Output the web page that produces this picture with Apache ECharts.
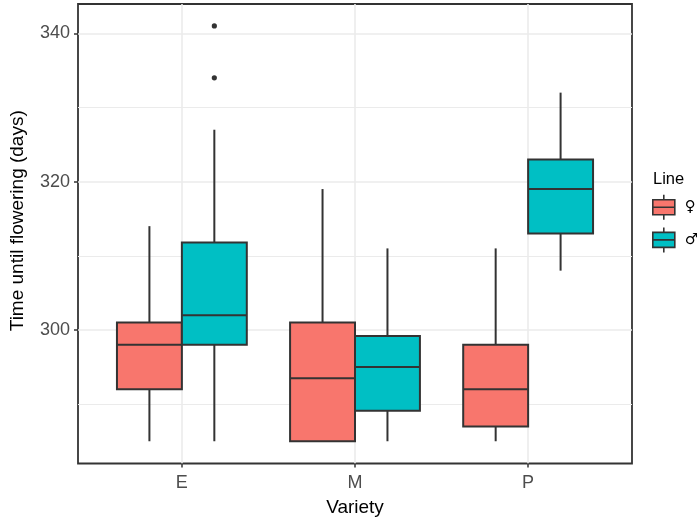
<!DOCTYPE html>
<html>
<head>
<meta charset="utf-8">
<script src="https://cdn.jsdelivr.net/npm/echarts@6/dist/echarts.min.js"></script>
<style>
html,body{margin:0;padding:0;background:#fff;}
#chart{width:700px;height:524px;}
</style>
</head>
<body>
<div id="chart"></div>
<script>
// ---- data ----
const categories = ['E', 'M', 'P'];
const seriesNames = ['\u2640', '\u2642'];
// [min, Q1, median, Q3, max] for each variety
const femaleBoxes = [
  [285, 292, 298, 301, 314],
  [285, 285, 293.5, 301, 319],
  [285, 287, 292, 298, 311]
];
const maleBoxes = [
  [285, 298, 302, 311.8, 327],
  [285, 289.1, 295, 299.2, 311],
  [308, 313, 319, 323, 332]
];
// outliers: [category, value]
const maleOutliers = [['E', 341], ['E', 334]];
const yMajorTicks = [300, 320, 340];
const yMinorTicks = [290, 310, 330];

// ---- chart ----
const FONT = 'Liberation Sans, Arial, DejaVu Sans, sans-serif';
const colors = ['#F8766D', '#00BFC4'];
const LW = 2;
const DARK = '#333333';

function toRows(boxes) {
  return boxes.map((b, i) => [i + 1].concat(b));
}

function makeRender(offsetFrac, color) {
  return function (params, api) {
    const x = api.value(0);
    const unit = api.size([1, 0])[0];
    const cx = api.coord([x, api.value(3)])[0] + offsetFrac * unit;
    const w = 0.375 * unit;
    const yMin = api.coord([x, api.value(1)])[1];
    const yQ1 = api.coord([x, api.value(2)])[1];
    const yMed = api.coord([x, api.value(3)])[1];
    const yQ3 = api.coord([x, api.value(4)])[1];
    const yMax = api.coord([x, api.value(5)])[1];
    const ls = { stroke: DARK, lineWidth: LW };
    return {
      type: 'group',
      children: [
        { type: 'line', shape: { x1: cx, y1: yMax, x2: cx, y2: yQ3 }, style: ls },
        { type: 'line', shape: { x1: cx, y1: yQ1, x2: cx, y2: yMin }, style: ls },
        { type: 'rect', shape: { x: cx - w / 2, y: yQ3, width: w, height: yQ1 - yQ3 },
          style: { fill: color, stroke: DARK, lineWidth: LW } },
        { type: 'line', shape: { x1: cx - w / 2, y1: yMed, x2: cx + w / 2, y2: yMed }, style: ls }
      ]
    };
  };
}

const legendIcon = 'path://M11,0L11,5M0,5L22,5L22,12.5L0,12.5ZM0,12.5L22,12.5L22,20L0,20ZM11,20L11,25';

const yMin = 282.0, yMax = 343.95;

const option = {
  animation: false,
  backgroundColor: '#ffffff',
  textStyle: { fontFamily: FONT },
  title: {
    text: 'Line',
    left: 653,
    top: 171,
    padding: 0,
    textStyle: { fontFamily: FONT, fontSize: 16.5, fontWeight: 'normal', color: '#000' }
  },
  legend: {
    orient: 'vertical',
    left: 652,
    top: 194,
    padding: 0,
    itemWidth: 22,
    itemHeight: 25,
    itemGap: 6,
    icon: legendIcon,
    symbolKeepAspect: false,
    itemStyle: { borderColor: DARK, borderWidth: 1.6 },
    textStyle: { fontFamily: 'DejaVu Sans, sans-serif', fontSize: 15, color: '#000', padding: [0, 0, 0, 5] },
    data: seriesNames
  },
  grid: {
    left: 75, right: 68, top: 4, bottom: 60.5,
    show: true,
    borderColor: DARK,
    borderWidth: 1.8,
    backgroundColor: '#ffffff'
  },
  xAxis: {
    type: 'value',
    min: 0.4,
    max: 3.6,
    name: 'Variety',
    nameLocation: 'middle',
    nameGap: 35,
    nameTextStyle: { fontFamily: FONT, fontSize: 19, color: '#000' },
    axisLine: { show: false },
    axisTick: { show: true, length: 4, lineStyle: { color: DARK, width: 1.5 }, customValues: [1, 2, 3] },
    axisLabel: {
      customValues: [1, 2, 3],
      margin: 11,
      fontFamily: FONT, fontSize: 18, color: '#4d4d4d',
      formatter: v => categories[Math.round(v) - 1] || ''
    },
    splitLine: { show: true, lineStyle: { color: '#ebebeb', width: 1.6 } }
  },
  yAxis: [
    {
      type: 'value', min: yMin, max: yMax, position: 'left',
      axisLine: { show: false },
      axisTick: { show: false, customValues: yMinorTicks },
      axisLabel: { show: false, customValues: yMinorTicks },
      splitLine: { show: true, lineStyle: { color: '#ebebeb', width: 1.2 } }
    },
    {
      type: 'value', min: yMin, max: yMax, position: 'left',
      name: 'Time until flowering (days)',
      nameLocation: 'middle',
      nameGap: 51,
      nameTextStyle: { fontFamily: FONT, fontSize: 19, color: '#000', padding: [0, 0, 0, 26] },
      axisLine: { show: false },
      axisTick: { show: true, length: 4, lineStyle: { color: DARK, width: 1.5 }, customValues: yMajorTicks },
      axisLabel: { customValues: yMajorTicks, margin: 8, fontFamily: FONT, fontSize: 18, color: '#4d4d4d' },
      splitLine: { show: true, lineStyle: { color: '#ebebeb', width: 1.6 } }
    }
  ],
  series: [
    {
      name: seriesNames[0],
      type: 'custom',
      xAxisIndex: 0, yAxisIndex: 1,
      itemStyle: { color: colors[0], borderColor: DARK },
      renderItem: makeRender(-0.1875, colors[0]),
      encode: { x: 0, y: [1, 2, 3, 4, 5] },
      data: toRows(femaleBoxes),
      z: 3
    },
    {
      name: seriesNames[1],
      type: 'custom',
      xAxisIndex: 0, yAxisIndex: 1,
      itemStyle: { color: colors[1], borderColor: DARK },
      renderItem: makeRender(0.1875, colors[1]),
      encode: { x: 0, y: [1, 2, 3, 4, 5] },
      data: toRows(maleBoxes),
      z: 3
    },
    {
      name: 'outliers',
      type: 'custom',
      xAxisIndex: 0, yAxisIndex: 1,
      renderItem: function (params, api) {
        const x = api.value(0);
        const unit = api.size([1, 0])[0];
        const p = api.coord([x, api.value(1)]);
        return { type: 'circle', shape: { cx: p[0] + 0.1875 * unit, cy: p[1], r: 2.6 }, style: { fill: DARK } };
      },
      encode: { x: 0, y: 1 },
      data: maleOutliers.map(o => [categories.indexOf(o[0]) + 1, o[1]]),
      z: 4
    }
  ]
};

const chart = echarts.init(document.getElementById('chart'), null, { renderer: 'canvas' });
chart.setOption(option);
</script>
</body>
</html>
